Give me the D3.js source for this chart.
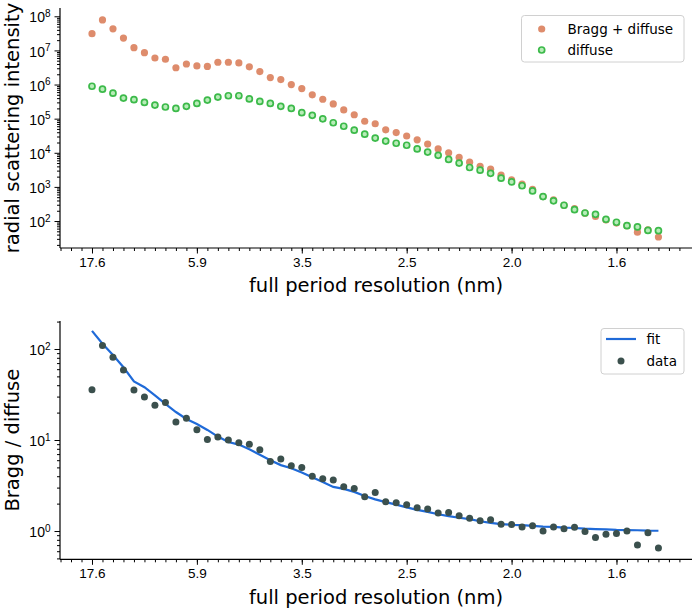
<!DOCTYPE html>
<html>
<head>
<meta charset="utf-8">
<script src="https://cdn.jsdelivr.net/npm/d3@7"></script>
<style>
  body { margin: 0; background: #fff; }
  svg { font-family: "DejaVu Sans", sans-serif; }
</style>
</head>
<body>
<div id="chart"></div>
<script>
// x positions are shell indices; tick labels give the full period resolution (nm)
const tickIndex = [0, 10, 20, 30, 40, 50];
const tickLabels = ["17.6", "5.9", "3.5", "2.5", "2.0", "1.6"];

// top panel: radial scattering intensity
const braggDiffuse = [3.1e7, 7.8e7, 4.3e7, 2.3e7, 1.2e7, 8.6e6, 6.0e6, 5.5e6, 3.1e6, 4.0e6,
  3.5e6, 3.4e6, 4.5e6, 4.5e6, 4.3e6, 3.3e6, 2.4e6, 1.6e6, 1.4e6, 1.0e6,
  7.6e5, 5.0e5, 3.7e5, 2.7e5, 1.8e5, 1.3e5, 8.4e4, 7.1e4, 4.7e4, 3.9e4,
  3.1e4, 2.4e4, 1.8e4, 1.3e4, 1.0e4, 7.3e3, 5.3e3, 4.0e3, 3.3e3, 2.2e3,
  1.6e3, 1.2e3, 850, 520, 420, 290, 230, 170, 136, 107,
  87, 73, 47, 55, 34];
const diffuse = [8.9e5, 7.3e5, 5.6e5, 4.0e5, 3.6e5, 3.0e5, 2.5e5, 2.2e5, 2.0e5, 2.3e5,
  2.8e5, 3.5e5, 4.3e5, 4.7e5, 4.7e5, 3.8e5, 3.2e5, 2.8e5, 2.3e5, 2.0e5,
  1.5e5, 1.25e5, 9.9e4, 7.6e4, 6.0e4, 4.6e4, 3.5e4, 2.7e4, 2.2e4, 1.9e4,
  1.66e4, 1.3e4, 1.05e4, 8.4e3, 6.4e3, 5.0e3, 3.7e3, 3.1e3, 2.5e3, 1.8e3,
  1.4e3, 1.08e3, 760, 520, 390, 290, 215, 172, 157, 112,
  92, 73, 67, 53, 52];

// bottom panel: Bragg / diffuse ratio and fit
const ratio = [35.7, 109, 81, 58.7, 35.4, 29.7, 24.1, 25.9, 15.8, 17.3,
  13.0, 10.1, 10.8, 10.0, 9.3, 9.0, 7.8, 5.8, 6.2, 5.2,
  5.0, 4.0, 3.75, 3.63, 3.07, 2.94, 2.38, 2.65, 2.10, 2.05,
  1.94, 1.80, 1.75, 1.58, 1.60, 1.47, 1.38, 1.30, 1.33, 1.19,
  1.18, 1.11, 1.14, 1.00, 1.11, 1.06, 1.10, 0.99, 0.85, 0.92,
  0.94, 1.00, 0.70, 0.96, 0.65];
const ratioFit = [158, 114, 86, 63, 44, 38, 31, 24.9, 20.3, 17.0,
  15.0, 12.9, 10.9, 9.5, 8.9, 7.9, 6.9, 6.0, 5.3, 4.9,
  4.4, 3.9, 3.45, 3.05, 2.9, 2.69, 2.43, 2.23, 2.08, 1.95,
  1.82, 1.71, 1.62, 1.53, 1.46, 1.40, 1.35, 1.28, 1.23, 1.19,
  1.17, 1.16, 1.14, 1.12, 1.11, 1.09, 1.08, 1.06, 1.05, 1.045,
  1.03, 1.025, 1.02, 1.01, 1.007];

const width = 692, height = 612;
const left = 60, right = 692;

const svg = d3.select("#chart").append("svg")
  .attr("width", width)
  .attr("height", height);

const x = d3.scaleLinear().domain([-3.05, 57.2]).range([left, right]);

const cOrange = "#de8c6c", cGreen = "#3cba4a", cData = "#3b504d", cFit = "#1f6ad8";

function drawXAxis(yPos, labelY) {
  const g = svg.append("g").attr("transform", `translate(0,${yPos})`);
  // minor ticks at every shell
  g.append("g")
    .call(d3.axisBottom(x).tickValues(d3.range(-3, 57)).tickSize(3).tickFormat(""))
    .call(a => a.select(".domain").remove());
  g.append("g")
    .call(d3.axisBottom(x).tickValues(tickIndex).tickSize(5.5).tickPadding(4)
      .tickFormat((d, i) => tickLabels[i]))
    .call(a => a.selectAll("text").attr("font-size", 13.5).attr("fill", "#000"));
  g.selectAll("line").attr("stroke", "#000").attr("stroke-width", 1);
  g.selectAll(".domain").attr("stroke", "#000").attr("stroke-width", 1.2)
    .attr("d", `M${left},0H${right}`);
  svg.append("text")
    .attr("x", (left + right) / 2)
    .attr("y", labelY)
    .attr("text-anchor", "middle")
    .attr("font-size", 19.5)
    .text("full period resolution (nm)");
}

function drawYAxis(y, label) {
  const [lo, hi] = y.domain();
  const majors = d3.range(Math.ceil(Math.log10(lo)), Math.floor(Math.log10(hi)) + 1).map(e => Math.pow(10, e));
  const minors = [];
  for (let e = Math.floor(Math.log10(lo)); e <= Math.ceil(Math.log10(hi)); e++) {
    for (let m = 2; m < 10; m++) {
      const v = m * Math.pow(10, e);
      if (v >= lo && v <= hi) minors.push(v);
    }
  }
  const g = svg.append("g").attr("transform", `translate(${left},0)`);
  g.append("g")
    .call(d3.axisLeft(y).tickValues(minors).tickSize(3).tickFormat(""))
    .call(a => a.select(".domain").remove());
  const maj = g.append("g")
    .call(d3.axisLeft(y).tickValues(majors).tickSize(5.5).tickPadding(4).tickFormat(""));
  maj.selectAll(".tick text").each(function(d) {
    const t = d3.select(this).attr("font-size", 14).attr("fill", "#000").attr("dy", "0.4em");
    t.append("tspan").text("10");
    t.append("tspan").attr("dy", "-0.55em").attr("font-size", 10).text(Math.round(Math.log10(d)));
  });
  g.selectAll("line").attr("stroke", "#000").attr("stroke-width", 1);
  const [r0, r1] = y.range();
  g.selectAll(".domain").attr("stroke", "#000").attr("stroke-width", 1.2)
    .attr("d", `M0,${r0}V${r1}`);
  svg.append("text")
    .attr("transform", `translate(19,${(r0 + r1) / 2}) rotate(-90)`)
    .attr("text-anchor", "middle")
    .attr("font-size", 19.5)
    .text(label);
}

// ---------- top panel ----------
const yTop = d3.scaleLog().domain([16.2, 1.75e8]).range([248, 8]);

drawXAxis(248, 292);
drawYAxis(yTop, "radial scattering intensity");

svg.append("g").selectAll("circle")
  .data(braggDiffuse)
  .join("circle")
  .attr("cx", (d, i) => x(i))
  .attr("cy", d => yTop(d))
  .attr("r", 3.6)
  .attr("fill", cOrange);

svg.append("g").selectAll("circle")
  .data(diffuse)
  .join("circle")
  .attr("cx", (d, i) => x(i))
  .attr("cy", d => yTop(d))
  .attr("r", 3)
  .attr("fill", "#b8ecb8")
  .attr("stroke", cGreen)
  .attr("stroke-width", 1.7);

// legend top
const lg1 = svg.append("g");
lg1.append("rect")
  .attr("x", 521.5).attr("y", 15.5).attr("width", 162.5).attr("height", 46.5)
  .attr("rx", 3).attr("fill", "#fff").attr("fill-opacity", 0.8)
  .attr("stroke", "#d0d0d0");
lg1.append("circle").attr("cx", 541.7).attr("cy", 29).attr("r", 3.6).attr("fill", cOrange);
lg1.append("circle").attr("cx", 541.7).attr("cy", 50).attr("r", 3)
  .attr("fill", "#b8ecb8").attr("stroke", cGreen).attr("stroke-width", 1.7);
lg1.append("text").attr("x", 567.5).attr("y", 33.5).attr("font-size", 13.5).text("Bragg + diffuse");
lg1.append("text").attr("x", 567.5).attr("y", 54.5).attr("font-size", 13.5).text("diffuse");

// ---------- bottom panel ----------
const yBot = d3.scaleLog().domain([0.489, 203]).range([559.3, 321]);

drawXAxis(559.3, 604);
drawYAxis(yBot, "Bragg / diffuse");

svg.append("path")
  .datum(ratioFit)
  .attr("fill", "none")
  .attr("stroke", cFit)
  .attr("stroke-width", 2.2)
  .attr("d", d3.line().x((d, i) => x(i)).y(d => yBot(d)));

svg.append("g").selectAll("circle")
  .data(ratio)
  .join("circle")
  .attr("cx", (d, i) => x(i))
  .attr("cy", d => yBot(d))
  .attr("r", 3.5)
  .attr("fill", cData);

// legend bottom
const lg2 = svg.append("g");
lg2.append("rect")
  .attr("x", 601).attr("y", 328.5).attr("width", 83).attr("height", 45.5)
  .attr("rx", 3).attr("fill", "#fff").attr("fill-opacity", 0.8)
  .attr("stroke", "#d0d0d0");
lg2.append("line").attr("x1", 606).attr("x2", 636).attr("y1", 339).attr("y2", 339)
  .attr("stroke", cFit).attr("stroke-width", 2.2);
lg2.append("circle").attr("cx", 621).attr("cy", 361).attr("r", 3.5).attr("fill", cData);
lg2.append("text").attr("x", 646.5).attr("y", 343.5).attr("font-size", 13.5).text("fit");
lg2.append("text").attr("x", 646.5).attr("y", 365.5).attr("font-size", 13.5).text("data");
</script>
</body>
</html>
